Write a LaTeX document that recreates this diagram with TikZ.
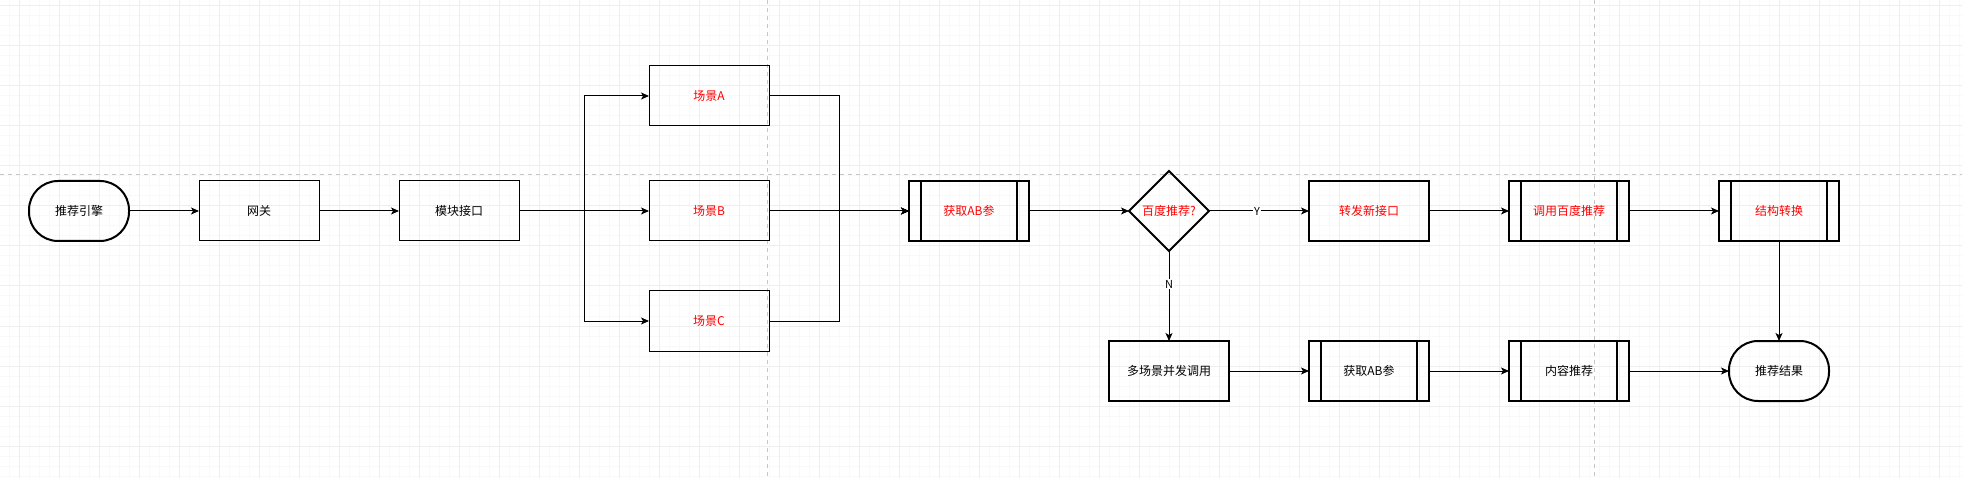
\documentclass[tikz,border=0pt]{standalone}
\usepackage{fontspec}
\setmainfont{Noto Sans CJK SC}
\usetikzlibrary{arrows.meta,shapes.geometric,positioning}
\definecolor{drred}{HTML}{FF0000}

\begin{document}
\begin{tikzpicture}[x=1pt, y=-1pt,
  box/.style={draw, line width=1pt, minimum width=120pt, minimum height=60pt, inner sep=0pt, outer sep=0pt, font=\fontsize{12}{14}\selectfont},
  boldbox/.style={box, line width=2pt},
  term/.style={boldbox, minimum width=100pt, rounded corners=29pt},
  decide/.style={diamond, draw, line width=2pt, minimum width=80pt, minimum height=80pt, aspect=1, inner sep=0pt, outer sep=0pt, font=\fontsize{12}{14}\selectfont},
  flow/.style={line width=1pt, -{Stealth[length=8pt, width=7pt, inset=2pt]}},
  lbl/.style={fill=white, inner sep=1pt, font=\fontsize{11}{13}\selectfont}]

\useasboundingbox (0,0) rectangle (1962,478);
\fill[white] (0,0) rectangle (1962,478);

\foreach \x in {-0.5,9.5,...,1962} \draw[gray!5, line width=1pt] (\x,0) -- (\x,478);
\foreach \y in {-4,6,...,478} \draw[gray!5, line width=1pt] (0,\y) -- (1962,\y);
\foreach \x in {19.5,59.5,...,1962} \draw[gray!13, line width=1pt] (\x,0) -- (\x,478);
\foreach \y in {6,46,...,478} \draw[gray!13, line width=1pt] (0,\y) -- (1962,\y);

\draw[gray!45, line width=1pt, dash pattern=on 4pt off 4pt] (0,175) -- (1962,175) (767,0) -- (767,478) (1594,0) -- (1594,478);

\node[term] (engine) at (79,211) {推荐引擎};
\node[box] (gate) at (259,211) {网关};
\node[box] (module) at (459,211) {模块接口};
\node[box, text=drred] (sa) at (709,96) {场景A};
\node[box, text=drred] (sb) at (709,211) {场景B};
\node[box, text=drred] (sc) at (709,321) {场景C};
\node[boldbox, text=drred] (ab1) at (969,211) {获取AB参};
\node[decide, text=drred] (baidu) at (1169,211) {百度推荐?};
\node[boldbox, text=drred] (fwd) at (1369,211) {转发新接口};
\node[boldbox, text=drred] (call) at (1569,211) {调用百度推荐};
\node[boldbox, text=drred] (conv) at (1779,211) {结构转换};
\node[boldbox] (multi) at (1169,371) {多场景并发调用};
\node[boldbox] (ab2) at (1369,371) {获取AB参};
\node[boldbox] (rec) at (1569,371) {内容推荐};
\node[term] (result) at (1779,371) {推荐结果};

\foreach \n in {ab1,call,conv,ab2,rec}
  \draw[line width=2pt] ([xshift=12pt]\n.north west) -- ([xshift=12pt]\n.south west)
    ([xshift=-12pt]\n.north east) -- ([xshift=-12pt]\n.south east);

\coordinate (split) at (584,211);
\coordinate (merge) at (839,211);

\draw[flow] (engine) -- (gate);
\draw[flow] (gate) -- (module);
\draw[flow] (module) -- (split) |- (sa.west);
\draw[flow] (module) -- (sb);
\draw[flow] (module) -- (split) |- (sc.west);
\draw[flow] (sa.east) -| (merge) -- (ab1.west);
\draw[flow] (sb) -- (ab1);
\draw[flow] (sc.east) -| (merge) -- (ab1.west);
\draw[flow] (ab1) -- (baidu);
\draw[flow] (baidu) -- node[lbl, pos=0.48] {Y} (fwd);
\draw[flow] (baidu) -- node[lbl, pos=0.37] {N} (multi);
\draw[flow] (fwd) -- (call);
\draw[flow] (call) -- (conv);
\draw[flow] (conv) -- (result);
\draw[flow] (multi) -- (ab2);
\draw[flow] (ab2) -- (rec);
\draw[flow] (rec) -- (result);

\end{tikzpicture}
\end{document}
